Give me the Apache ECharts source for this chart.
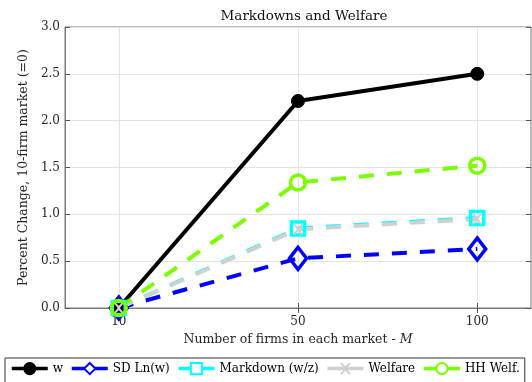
<!DOCTYPE html>
<html>
<head>
<meta charset="utf-8">
<script src="https://cdn.jsdelivr.net/npm/echarts@6/dist/echarts.min.js"></script>
<style>
  html, body { margin: 0; padding: 0; background: #fff; }
  #chart { width: 532px; height: 382px; }
</style>
</head>
<body>
<div id="chart"></div>
<script>
// Number of firms per market (shown as evenly spaced categories)
const firmCounts = ['10', '50', '100'];
const firmPos = [1, 2, 3];

// Percent change relative to the 10-firm market
const wage       = [0, 2.21, 2.50];
const sdLnWage   = [0, 0.53, 0.63];
const markdown   = [0, 0.85, 0.96];
const welfare    = [0, 0.84, 0.95];
const hhWelfare  = [0, 1.34, 1.52];

const yTicks = [0, 0.5, 1.0, 1.5, 2.0, 2.5, 3.0];

const serif = '"DejaVu Serif", serif';
const crossPath = 'path://M0,0 L2,0 L5,3 L8,0 L10,0 L6,5 L10,10 L8,10 L5,7 L2,10 L0,10 L4,5 Z';
const hollow = 'rgba(255,255,255,0)';

function pts(vals) {
  return vals.map((v, i) => [firmPos[i], v]);
}

const chart = echarts.init(document.getElementById('chart'), null, { renderer: 'canvas' });

const dash = [15, 13];
const legendLine = { width: 3.5, type: 'solid' };

chart.setOption({
  animation: false,
  backgroundColor: '#ffffff',
  title: {
    text: 'Markdowns and Welfare',
    left: 299,
    top: 4,
    textAlign: 'center',
    textStyle: { fontFamily: serif, fontSize: 13.5, fontWeight: 'normal', color: '#111' }
  },
  grid: {
    left: 65, top: 27, right: 1, bottom: 74,
    show: true, borderColor: '#7a7a7a', borderWidth: 1, backgroundColor: 'transparent'
  },
  legend: {
    left: 5, top: 358, width: 600,
    padding: [4, 5, 8, 5],
    borderColor: '#333', borderWidth: 1,
    itemWidth: 36, itemHeight: 14, itemGap: 7,
    textStyle: { fontFamily: serif, fontSize: 12, color: '#000' },
    data: [
      { name: 'w', lineStyle: legendLine },
      { name: 'SD Ln(w)', itemStyle: { color: '#fff' }, lineStyle: legendLine },
      { name: 'Markdown (w/z)', itemStyle: { color: '#fff' }, lineStyle: legendLine },
      { name: 'Welfare', lineStyle: legendLine },
      { name: 'HH Welf.', itemStyle: { color: '#fff' }, lineStyle: legendLine }
    ]
  },
  xAxis: [{
    type: 'value', min: 0.7, max: 3.3,
    name: 'Number of firms in each market - {i|M}',
    nameLocation: 'middle', nameGap: 25,
    nameTextStyle: {
      fontFamily: serif, fontSize: 12.5, color: '#262626',
      rich: { i: { fontFamily: serif, fontSize: 12.5, fontStyle: 'italic', color: '#262626' } }
    },
    axisLine: { show: true, onZero: false, lineStyle: { color: '#7a7a7a', width: 1 } },
    axisTick: { show: true, inside: true, length: 5, customValues: firmPos, lineStyle: { color: '#555' } },
    axisLabel: {
      customValues: firmPos, margin: 8,
      fontFamily: serif, fontSize: 12, color: '#262626',
      formatter: v => firmCounts[firmPos.indexOf(Math.round(v))] || ''
    },
    splitLine: { show: true, lineStyle: { color: '#e3e3e3', width: 1 } }
  }, {
    type: 'value', min: 0.7, max: 3.3, position: 'top',
    axisLine: { show: false },
    axisTick: { show: true, inside: true, length: 5, customValues: firmPos, lineStyle: { color: '#555' } },
    axisLabel: { show: false },
    splitLine: { show: false }
  }],
  yAxis: [{
    type: 'value', min: 0, max: 3, interval: 0.5,
    name: 'Percent Change, 10-firm market (=0)',
    nameLocation: 'middle', nameGap: 31,
    nameTextStyle: { fontFamily: serif, fontSize: 12.5, color: '#262626' },
    axisLine: { show: true, lineStyle: { color: '#7a7a7a', width: 1 } },
    axisTick: { show: true, inside: true, length: 5, lineStyle: { color: '#555' } },
    axisLabel: {
      margin: 5, fontFamily: serif, fontSize: 12, color: '#262626',
      formatter: v => yTicks.includes(v) ? v.toFixed(1) : ''
    },
    splitLine: { show: true, lineStyle: { color: '#e3e3e3', width: 1 } }
  }, {
    type: 'value', min: 0, max: 3, interval: 0.5, position: 'right',
    axisLine: { show: false },
    axisTick: { show: true, inside: true, length: 5, lineStyle: { color: '#555' } },
    axisLabel: { show: false },
    splitLine: { show: false }
  }],
  series: [
    {
      name: 'w', type: 'line', data: pts(wage),
      symbol: 'circle', symbolSize: 13,
      lineStyle: { color: '#000', width: 4 },
      itemStyle: { color: '#000', borderColor: '#000', borderWidth: 1 }
    },
    {
      name: 'SD Ln(w)', type: 'line', data: pts(sdLnWage),
      symbol: 'diamond', symbolSize: [17, 22],
      lineStyle: { color: '#0000ff', width: 4, type: dash },
      itemStyle: { color: hollow, borderColor: '#0000ff', borderWidth: 3.5 }
    },
    {
      name: 'Markdown (w/z)', type: 'line', data: pts(markdown),
      symbol: 'rect', symbolSize: 13,
      lineStyle: { color: '#00ffff', width: 4, type: dash },
      itemStyle: { color: hollow, borderColor: '#00ffff', borderWidth: 3.5 }
    },
    {
      name: 'Welfare', type: 'line', data: pts(welfare),
      symbol: crossPath, symbolSize: 11,
      lineStyle: { color: '#d0d0d0', width: 4, type: dash },
      itemStyle: { color: '#d0d0d0', borderColor: '#d0d0d0', borderWidth: 0 }
    },
    {
      name: 'HH Welf.', type: 'line', data: pts(hhWelfare),
      symbol: 'circle', symbolSize: 15,
      lineStyle: { color: '#7cfc00', width: 4, type: dash },
      itemStyle: { color: hollow, borderColor: '#7cfc00', borderWidth: 3.5 }
    }
  ]
});
</script>
</body>
</html>
